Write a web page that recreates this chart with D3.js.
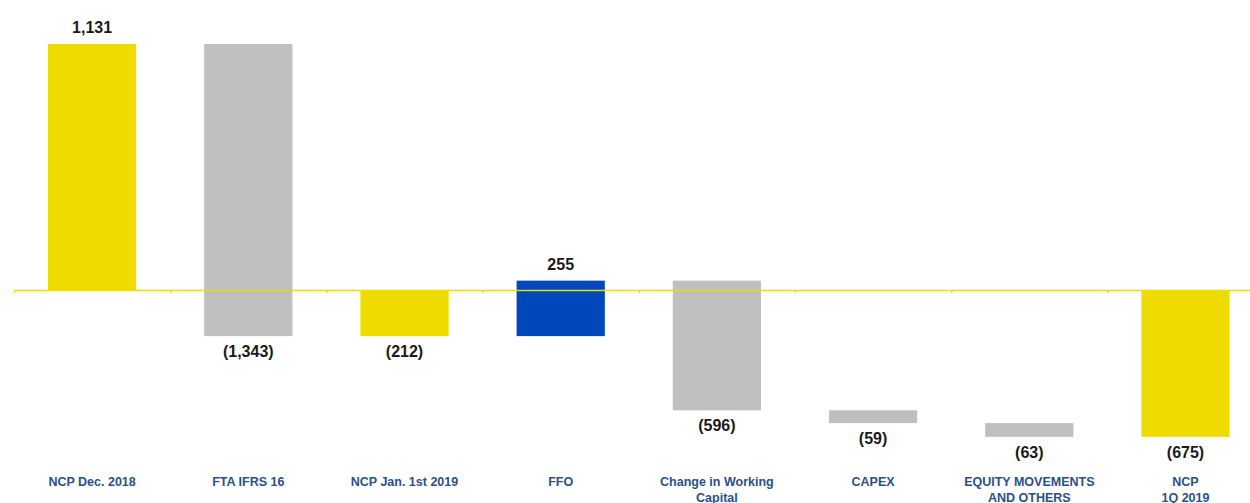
<!DOCTYPE html>
<html>
<head>
<meta charset="utf-8">
<script src="https://cdn.jsdelivr.net/npm/d3@7"></script>
<style>
  body { margin: 0; background: #fff; }
  svg { display: block; font-family: "Liberation Sans", Arial, sans-serif; }
  .value { font-weight: bold; font-size: 16px; fill: #1a1a1a; }
  .cat { font-weight: bold; font-size: 12.5px; fill: #2b4f8a; }
</style>
</head>
<body>
<script>
// waterfall: net cash position bridge
var categories = ["NCP Dec. 2018", "FTA IFRS 16", "NCP Jan. 1st 2019", "FFO",
                  "Change in Working\nCapital", "CAPEX", "EQUITY MOVEMENTS\nAND OTHERS", "NCP\n1Q 2019"];
var values = [1131, -1343, -212, 255, -596, -59, -63, -675];
var isTotal = [true, false, true, false, false, false, false, true];

var width = 1250, height = 503;

var svg = d3.select("body").append("svg")
    .attr("width", width)
    .attr("height", height);

// compute start/end of each bar
var running = 0;
var bars = [];
for (var i = 0; i < values.length; i++) {
  var b = {cat: categories[i], value: values[i], total: isTotal[i]};
  if (isTotal[i]) {
    b.start = 0; b.end = values[i];
    running = values[i];
  } else {
    b.start = running; b.end = running + values[i];
    running = b.end;
  }
  bars.push(b);
}

var x = d3.scaleBand()
    .domain(categories)
    .range([14, 1263.6])
    .paddingInner(0.435)
    .paddingOuter(0.2175);

var y = d3.scaleLinear()
    .domain([0, 1131])
    .range([290, 44]);

function color(d) {
  if (d.total) return "#eedc00";
  return d.value > 0 ? "#0047bb" : "#bfbfbf";
}

svg.append("g")
  .selectAll("rect")
  .data(bars)
  .enter()
  .append("rect")
  .attr("x", function(d) { return x(d.cat); })
  .attr("width", x.bandwidth())
  .attr("y", function(d) { return y(Math.max(d.start, d.end)); })
  .attr("height", function(d) { return Math.abs(y(d.start) - y(d.end)); })
  .attr("fill", color);

// axis with ticks at category boundaries
var xb = d3.scaleLinear().domain([0, categories.length]).range([14, 1263.6]);
var axis = svg.append("g")
  .attr("transform", "translate(0," + y(0) + ")")
  .call(d3.axisBottom(xb).ticks(categories.length).tickSize(3).tickFormat("").tickSizeOuter(0));
axis.select(".domain").attr("stroke", "#eedc00").attr("stroke-width", 1.5);
axis.selectAll(".tick line").attr("stroke", "#eedc00").attr("stroke-width", 1.5);

// value labels
var fmt = d3.format(",");
svg.append("g")
  .selectAll("text")
  .data(bars)
  .enter()
  .append("text")
  .attr("class", "value")
  .attr("text-anchor", "middle")
  .attr("x", function(d) { return x(d.cat) + x.bandwidth() / 2; })
  .attr("y", function(d) {
    if (d.value > 0) return y(Math.max(d.start, d.end)) - 11;
    return y(Math.min(d.start, d.end)) + 21;
  })
  .text(function(d) { return d.value < 0 ? "(" + fmt(-d.value) + ")" : fmt(d.value); });

// category labels
svg.append("g")
  .selectAll("text")
  .data(bars)
  .enter()
  .append("text")
  .attr("class", "cat")
  .attr("text-anchor", "middle")
  .attr("x", function(d) { return x(d.cat) + x.bandwidth() / 2; })
  .attr("y", 486)
  .each(function(d) {
    var t = d3.select(this);
    d.cat.split("\n").forEach(function(line, k) {
      t.append("tspan")
        .attr("x", x(d.cat) + x.bandwidth() / 2)
        .attr("dy", k === 0 ? 0 : 16)
        .text(line);
    });
  });
</script>
</body>
</html>
